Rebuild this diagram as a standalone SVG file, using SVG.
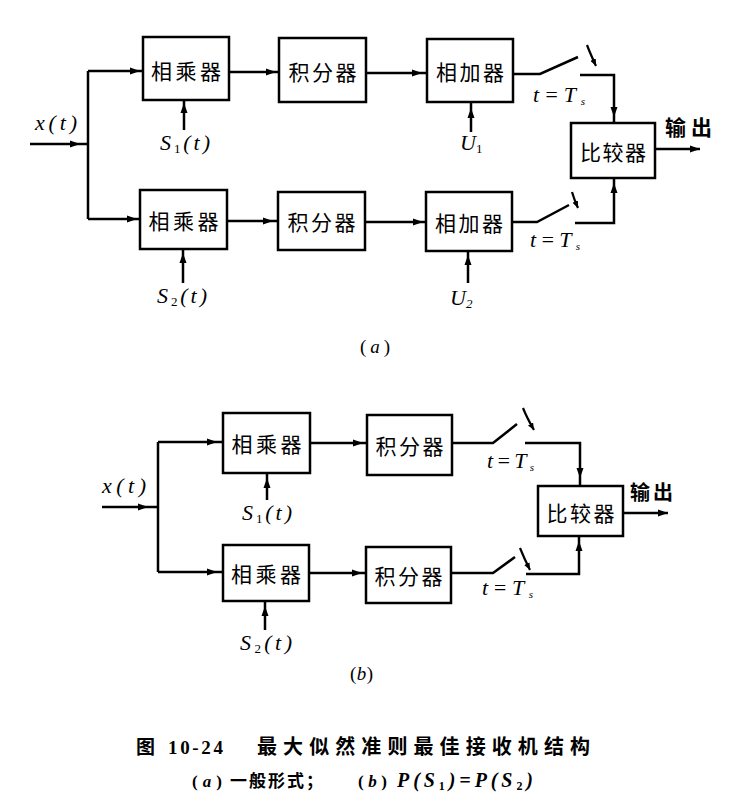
<svg xmlns="http://www.w3.org/2000/svg" width="751" height="810" viewBox="0 0 751 810">
<style>
.box{fill:none;stroke:#000;stroke-width:2.5}
.ln{fill:none;stroke:#000;stroke-width:2.5}
.ar{marker-end:url(#ah)}
.lv{fill:none;stroke:#000;stroke-width:2.2;marker-end:url(#ah2)}
.cn{font-family:"Noto Sans CJK SC",sans-serif;font-size:21px;text-anchor:middle;dominant-baseline:central}
.m{font-family:"Liberation Serif",serif;font-style:italic;font-size:22px}
.cap{font-family:"Noto Sans CJK SC",sans-serif;font-weight:bold}
.capm{font-family:"Liberation Serif",serif;font-weight:bold}
</style>
<defs>
<marker id="ah" markerUnits="userSpaceOnUse" markerWidth="11" markerHeight="8" refX="10" refY="4" orient="auto"><path d="M0,0.5 L10,4 L0,7.5 z" fill="#000"/></marker>
<marker id="ah2" markerUnits="userSpaceOnUse" markerWidth="8" markerHeight="6" refX="7" refY="3" orient="auto"><path d="M0,0 L7,3 L0,6 z" fill="#000"/></marker>
</defs>
<rect width="751" height="810" fill="#fff"/>

<!-- Diagram (a) -->
<g id="a-M1"><rect class="box" x="143" y="37" width="86" height="63"/><text class="cn" x="186" y="70" textLength="70" lengthAdjust="spacing">相乘器</text></g>
<g id="a-I1"><rect class="box" x="279" y="38" width="87" height="64"/><text class="cn" x="322.5" y="71" textLength="68" lengthAdjust="spacing">积分器</text></g>
<g id="a-A1"><rect class="box" x="427" y="39" width="86" height="63"/><text class="cn" x="470" y="71" textLength="68" lengthAdjust="spacing">相加器</text></g>
<g id="a-M2"><rect class="box" x="140" y="190" width="87" height="59"/><text class="cn" x="183.5" y="220" textLength="70" lengthAdjust="spacing">相乘器</text></g>
<g id="a-I2"><rect class="box" x="278" y="192" width="87" height="58"/><text class="cn" x="321.5" y="221" textLength="68" lengthAdjust="spacing">积分器</text></g>
<g id="a-A2"><rect class="box" x="426" y="192" width="86" height="59"/><text class="cn" x="469" y="221.5" textLength="68" lengthAdjust="spacing">相加器</text></g>
<g id="a-C"><rect class="box" x="571" y="123" width="84" height="55"/><text class="cn" x="613" y="151" textLength="66" lengthAdjust="spacing">比较器</text></g>

<!-- Diagram (b) -->
<g id="b-M1"><rect class="box" x="223" y="413" width="87" height="60"/><text class="cn" x="266.5" y="443" textLength="70" lengthAdjust="spacing">相乘器</text></g>
<g id="b-I1"><rect class="box" x="367" y="415" width="85" height="60"/><text class="cn" x="409.5" y="445" textLength="68" lengthAdjust="spacing">积分器</text></g>
<g id="b-M2"><rect class="box" x="223" y="545" width="86" height="56"/><text class="cn" x="266" y="573" textLength="70" lengthAdjust="spacing">相乘器</text></g>
<g id="b-I2"><rect class="box" x="366" y="547" width="85" height="56"/><text class="cn" x="408.5" y="575" textLength="68" lengthAdjust="spacing">积分器</text></g>
<g id="b-C"><rect class="box" x="538" y="486" width="85" height="50"/><text class="cn" x="580.5" y="512" textLength="68" lengthAdjust="spacing">比较器</text></g>

<g id="connectors">
<!-- (a) -->
<path class="ln ar" d="M30,144 H80"/><path class="ln" d="M80,144 H88"/>
<path class="ln" d="M88,71 V219"/>
<path class="ln ar" d="M88,71 H140"/><path class="ln" d="M140,71 H143"/>
<path class="ln ar" d="M88,219 H137"/><path class="ln" d="M137,219 H140"/>
<path class="ln ar" d="M229,72 H276"/><path class="ln" d="M276,72 H279"/>
<path class="ln ar" d="M366,73 H422"/><path class="ln" d="M422,73 H427"/>
<path class="ln ar" d="M227,221 H273"/><path class="ln" d="M273,221 H278"/>
<path class="ln ar" d="M365,222 H423"/><path class="ln" d="M423,222 H426"/>
<path class="ln ar" d="M184,130 V103"/><path class="ln" d="M184,103 V100"/>
<path class="ln ar" d="M471,132 V108"/><path class="ln" d="M471,108 V102"/>
<path class="ln ar" d="M183,283 V253"/><path class="ln" d="M183,253 V249"/>
<path class="ln ar" d="M468,283 V255"/><path class="ln" d="M468,255 V251"/>
<path class="ln" d="M513,74 H540 L578,57"/>
<path class="lv" d="M587,45 Q590,53 596,66"/>
<path class="ln ar" d="M580,75 H614 V117"/><path class="ln" d="M614,117 V123"/>
<path class="ln" d="M512,222 H537 L569,205"/>
<path class="lv" d="M572,192 Q574,199 578,208"/>
<path class="ln ar" d="M575,223 H614 V183"/><path class="ln" d="M614,183 V178"/>
<path class="ln ar" d="M655,149 H700"/>
<!-- (b) -->
<path class="ln ar" d="M102,507 H148"/><path class="ln" d="M148,507 H158"/>
<path class="ln" d="M158,442 V572"/>
<path class="ln ar" d="M158,442 H217"/><path class="ln" d="M217,442 H223"/>
<path class="ln ar" d="M158,572 H217"/><path class="ln" d="M217,572 H223"/>
<path class="ln ar" d="M310,443 H363"/><path class="ln" d="M363,443 H367"/>
<path class="ln ar" d="M309,573 H362"/><path class="ln" d="M362,573 H366"/>
<path class="ln ar" d="M267,500 V478"/><path class="ln" d="M267,478 V473"/>
<path class="ln ar" d="M265,630 V606"/><path class="ln" d="M265,606 V601"/>
<path class="ln" d="M452,443 H493 L517,424"/>
<path class="lv" d="M523,408 Q527,418 534,430"/>
<path class="ln ar" d="M525,443 H580 V478"/><path class="ln" d="M580,478 V486"/>
<path class="ln" d="M451,573 H493 L515,557"/>
<path class="lv" d="M520,548 Q524,558 530,570"/>
<path class="ln ar" d="M526,574 H579 V541"/><path class="ln" d="M579,541 V536"/>
<path class="ln ar" d="M623,513 H668"/>
</g>

<g id="labels">
<!-- (a) -->
<text class="m" x="35" y="130" textLength="42" lengthAdjust="spacing">x(t)</text>
<text class="m" x="160" y="150" textLength="50" lengthAdjust="spacing">S<tspan font-size="13" dy="3" font-style="normal">1</tspan><tspan dy="-3">(t)</tspan></text>
<text class="m" x="460" y="150">U<tspan font-size="13" dy="3" font-style="normal">1</tspan></text>
<text class="m" x="533" y="102" textLength="52" lengthAdjust="spacing">t=T<tspan font-size="11" dy="3">s</tspan></text>
<text class="m" x="530" y="247" textLength="50" lengthAdjust="spacing">t=T<tspan font-size="11" dy="3">s</tspan></text>
<text class="m" x="157" y="303" textLength="50" lengthAdjust="spacing">S<tspan font-size="13" dy="3" font-style="normal">2</tspan><tspan dy="-3">(t)</tspan></text>
<text class="m" x="450" y="305">U<tspan font-size="13" dy="3">2</tspan></text>
<text class="cap" x="665" y="135" font-size="21" textLength="47" lengthAdjust="spacing">输出</text>
<text font-family="Liberation Serif,serif" font-size="19" x="360" y="353" textLength="30" lengthAdjust="spacing">(<tspan font-style="italic">a</tspan>)</text>
<!-- (b) -->
<text class="m" x="102" y="493" textLength="44" lengthAdjust="spacing">x(t)</text>
<text class="m" x="242" y="520" textLength="50" lengthAdjust="spacing">S<tspan font-size="13" dy="3" font-style="normal">1</tspan><tspan dy="-3">(t)</tspan></text>
<text class="m" x="240" y="650" textLength="52" lengthAdjust="spacing">S<tspan font-size="13" dy="3" font-style="normal">2</tspan><tspan dy="-3">(t)</tspan></text>
<text class="m" x="487" y="468" textLength="47" lengthAdjust="spacing">t=T<tspan font-size="11" dy="3">s</tspan></text>
<text class="m" x="482" y="595" textLength="51" lengthAdjust="spacing">t=T<tspan font-size="11" dy="3">s</tspan></text>
<text class="cap" x="630" y="500" font-size="20" textLength="43" lengthAdjust="spacing">输出</text>
<text font-family="Liberation Serif,serif" font-size="19" x="350" y="680" textLength="23" lengthAdjust="spacing">(<tspan font-style="italic">b</tspan>)</text>
<!-- caption -->
<text class="cap" x="136" y="754" font-size="19">图</text>
<text class="capm" x="168" y="754" font-size="19" textLength="55" lengthAdjust="spacing">10-24</text>
<text class="cap" x="257" y="754" font-size="20" textLength="333" lengthAdjust="spacing">最大似然准则最佳接收机结构</text>
<text class="capm" x="192" y="787" font-size="17" textLength="30" lengthAdjust="spacing">(<tspan font-style="italic">a</tspan>)</text>
<text class="cap" x="230" y="787" font-size="17" textLength="93" lengthAdjust="spacing">一般形式；</text>
<text class="capm" x="358" y="787" font-size="17" textLength="29" lengthAdjust="spacing">(<tspan font-style="italic">b</tspan>)</text>
<text class="capm" x="397" y="787" font-size="20" font-style="italic" textLength="136" lengthAdjust="spacing">P(S<tspan font-size="12" dy="3" font-style="normal">1</tspan><tspan dy="-3">)=P(S</tspan><tspan font-size="12" dy="3" font-style="normal">2</tspan><tspan dy="-3">)</tspan></text>
</g>
</svg>
